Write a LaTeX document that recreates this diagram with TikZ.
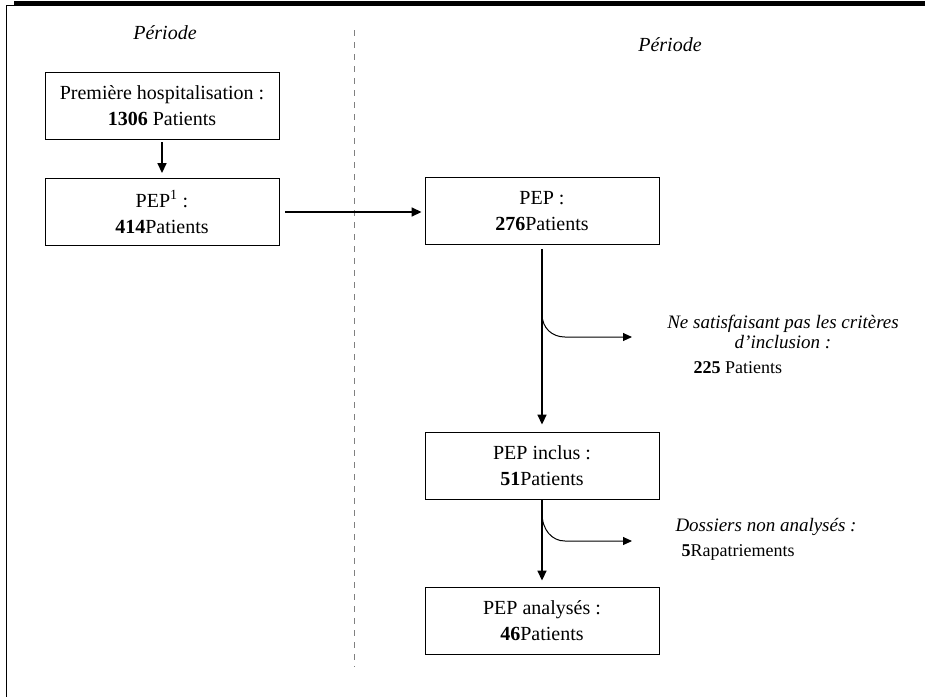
\documentclass[tikz,border=0pt]{standalone}
\usepackage{fontspec}
\setmainfont{Liberation Serif}
\usetikzlibrary{arrows.meta}

\begin{document}
\begin{tikzpicture}[x=1pt,y=-1pt,
    boite/.style={draw,line width=0.9pt,minimum width=234pt,minimum height=67pt,
                  inner sep=0pt,align=center,font=\fontsize{20}{26}\selectfont},
    note/.style={align=center,font=\fontsize{19}{20}\selectfont\itshape},
    compte/.style={anchor=west,font=\fontsize{18}{20}\selectfont},
    fleche/.style={line width=1.6pt,-{Triangle[length=10pt,width=9pt]}},
    branche/.style={line width=1pt,-{Triangle[length=9pt,width=8pt]}}]

  \pgfmathsetmacro\xg{162}   % left column
  \pgfmathsetmacro\xd{542}   % right column
  \useasboundingbox (0,0) rectangle (925,697);

% frame at top and left
  \fill (14,1) rectangle (925,6);
  \draw[line width=1.2pt] (14,5.5) -- (6.5,5.5) -- (6.5,697);

% dashed separation
  \draw[gray,line width=0.8pt,dash pattern=on 6pt off 6pt] (354,30) -- (354,667);

% period labels
  \node[font=\fontsize{20}{24}\selectfont\itshape] (per1) at (165,33) {Période};
  \node[font=\fontsize{20}{24}\selectfont\itshape] (per2) at (670,45) {Période};

% boxes
  \node[boite] (hosp) at (\xg,105.5) {Première hospitalisation :\\ \textbf{1306} Patients};
  \node[boite] (pep)  at (\xg,212)   {PEP\textsuperscript{1} :\\ \textbf{414}Patients};
  \node[boite] (pepd) at (\xd,211)   {PEP :\\ \textbf{276}Patients};
  \node[boite] (incl) at (\xd,465.5) {PEP inclus :\\ \textbf{51}Patients};
  \node[boite] (anal) at (\xd,620.5) {PEP analysés :\\ \textbf{46}Patients};

% main arrows
  \draw[fleche,shorten <=3pt,shorten >=5pt] (hosp) -- (pep);
  \draw[fleche,shorten <=6pt,shorten >=3pt] (pep.east) -- (pep.east -| pepd.west);
  \draw[fleche,shorten <=4pt,shorten >=7pt] (pepd) -- (incl);
  \draw[fleche,shorten >=6pt] (incl) -- (anal);

% exclusions
  \coordinate (d1) at (\xd,314);
  \coordinate (a1) at (632,337);
  \draw[branche] (d1) .. controls ([yshift=-14pt]d1) and ([xshift=10pt]d1 |- a1)
                 .. ([xshift=23pt]d1 |- a1) -- (a1);
  \node[note] (excl) at (783,332) {Ne satisfaisant pas les critères\\ d’inclusion :};
  \node[compte] (excln) at (690,368) {\textbf{225} Patients};

  \coordinate (d2) at (\xd,513);
  \coordinate (a2) at (632,541);
  \draw[branche] (d2) .. controls ([yshift=-17pt]d2) and ([xshift=10pt]d2 |- a2)
                 .. ([xshift=23pt]d2 |- a2) -- (a2);
  \node[note] (doss) at (766,527) {Dossiers non analysés :};
  \node[compte] (rapa) at (678,552) {\textbf{5}Rapatriements};

\end{tikzpicture}
\end{document}
